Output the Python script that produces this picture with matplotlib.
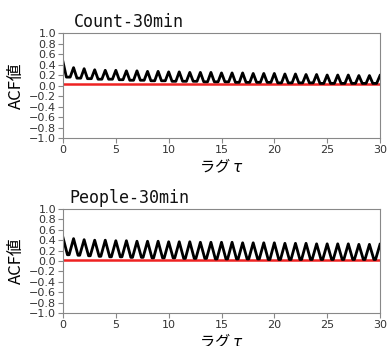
import numpy as np
import matplotlib
matplotlib.use("Agg")
import matplotlib.pyplot as plt

titles = ["Count-30min", "People-30min"]
ylabel = "ACF値"
xlabel = "ラグ $\\tau$"
yticks = [1.0, 0.8, 0.6, 0.4, 0.2, 0.0, -0.2, -0.4, -0.6, -0.8, -1.0]
xticks = [0, 5, 10, 15, 20, 25, 30]

count_start = 0.45
count_peaks = [0.34, 0.32, 0.30, 0.29, 0.29, 0.28, 0.28, 0.27, 0.27, 0.26,
               0.26, 0.25, 0.25, 0.25, 0.24, 0.24, 0.24, 0.23, 0.23, 0.23,
               0.22, 0.22, 0.21, 0.21, 0.20, 0.20, 0.20, 0.19, 0.19, 0.19]
count_troughs = [0.16, 0.14, 0.13, 0.12, 0.12, 0.11, 0.10, 0.10, 0.09, 0.09,
                 0.08, 0.08, 0.08, 0.07, 0.07, 0.07, 0.06, 0.06, 0.06, 0.06,
                 0.05, 0.05, 0.05, 0.05, 0.04, 0.04, 0.04, 0.04, 0.04, 0.04]

people_start = 0.45
people_peaks = [0.43, 0.41, 0.40, 0.40, 0.39, 0.39, 0.38, 0.38, 0.38, 0.37,
                0.37, 0.37, 0.36, 0.36, 0.36, 0.36, 0.35, 0.35, 0.35, 0.35,
                0.34, 0.34, 0.34, 0.33, 0.33, 0.33, 0.33, 0.32, 0.32, 0.32]
people_troughs = [0.12, 0.11, 0.10, 0.09, 0.08, 0.08, 0.07, 0.07, 0.06, 0.06,
                  0.06, 0.05, 0.05, 0.05, 0.04, 0.04, 0.04, 0.04, 0.04, 0.03,
                  0.03, 0.03, 0.03, 0.03, 0.03, 0.03, 0.03, 0.03, 0.03, 0.03]

red_level = 0.02


def build(start, peaks, troughs, w):
    xs = [0.0]
    ys = [start]
    for k in range(len(peaks)):
        xs += [k + 0.5 - w, k + 0.5 + w, k + 1.0]
        ys += [troughs[k], troughs[k], peaks[k]]
    return np.array(xs), np.array(ys)


plt.rcParams['font.family'] = ['DejaVu Sans', 'Noto Sans CJK JP']

fig = plt.figure(figsize=(3.87, 3.46), dpi=100)
W, H = 387, 346
L, R = 63, 380
boxes = [(33, 138), (209, 313)]
series = [(count_start, count_peaks, count_troughs, 0.18),
          (people_start, people_peaks, people_troughs, 0.08)]
grey = '#888888'

for i, ((top, bot), (s, p, t, w)) in enumerate(zip(boxes, series)):
    ax = fig.add_axes([L / W, 1 - bot / H, (R - L) / W, (bot - top) / H])
    x, y = build(s, p, t, w)
    ax.plot(x, y, color='black', lw=2.0, solid_joinstyle='round')
    ax.plot([0, 30], [red_level, red_level], color='#ee2222', lw=1.8, zorder=1)
    ax.set_xlim(0, 30)
    ax.set_ylim(-1.0, 1.0)
    ax.set_yticks(yticks)
    ax.set_xticks(xticks)
    ax.tick_params(labelsize=8, colors='#333333', length=3.5, width=0.8,
                   pad=1.5)
    ax.tick_params(axis='both', color=grey)
    for sp in ax.spines.values():
        sp.set_color(grey)
    ax.set_ylabel(ylabel, family=['Noto Sans CJK JP'], fontsize=12, labelpad=3)
    ax.set_xlabel(xlabel, family=['Noto Sans CJK JP', 'DejaVu Sans'],
                  fontsize=11, labelpad=2)
    fig.text(129 / W, 1 - (top - 11) / H, titles[i], family='DejaVu Sans Mono',
             fontsize=12, ha='center', va='center', color='#111111')

fig.savefig('out.png', dpi=100)
